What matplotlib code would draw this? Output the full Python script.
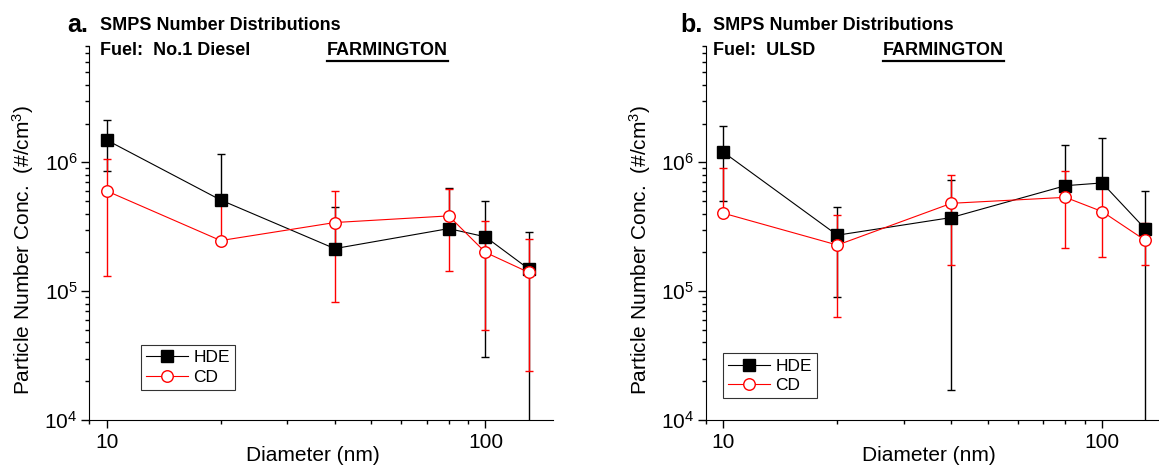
import numpy as np
import matplotlib
matplotlib.use('Agg')
from matplotlib import pyplot as plt
from matplotlib.ticker import LogLocator, FuncFormatter, NullFormatter
from matplotlib.lines import Line2D

plt.rcParams['font.family'] = ['Liberation Sans', 'DejaVu Sans']
plt.rcParams['mathtext.fontset'] = 'custom'
plt.rcParams['mathtext.rm'] = 'Liberation Sans'
plt.rcParams['mathtext.it'] = 'Liberation Sans:italic'
plt.rcParams['mathtext.bf'] = 'Liberation Sans:bold'

# particle diameter (nm)
diameter = [10, 20, 40, 80, 100, 130]

# panel a - No.1 Diesel
a_hde = [1.49e6, 5.1e5, 2.14e5, 3.06e5, 2.64e5, 1.49e5]
a_hde_err = [6.4e5, 6.6e5, 2.36e5, 3.26e5, 2.33e5, 1.4e5]
a_cd = [6.0e5, 2.47e5, 3.41e5, 3.84e5, 2.0e5, 1.4e5]
a_cd_err = [4.7e5, 2.6e5, 2.58e5, 2.41e5, 1.5e5, 1.16e5]

# panel b - ULSD
b_hde = [1.2e6, 2.72e5, 3.73e5, 6.59e5, 6.92e5, 3.04e5]
b_hde_err = [7.0e5, 1.82e5, 3.56e5, 7.1e5, 8.6e5, 3.0e5]
b_cd = [4.03e5, 2.28e5, 4.81e5, 5.35e5, 4.15e5, 2.48e5]
b_cd_err = [4.95e5, 1.65e5, 3.2e5, 3.2e5, 2.32e5, 0.89e5]

W, H = 1159, 467
fig = plt.figure(figsize=(W / 100, H / 100), dpi=100)


def px(x0, y0, w, h):
    # pixel box (top-left origin) -> figure fraction
    return [x0 / W, 1 - (y0 + h) / H, w / W, h / H]


def panel(ax, hde, hde_err, cd, cd_err, leg_xy, xlab_x):
    handles = []
    for vals, errs, col, mk, mfc, lab in [(hde, hde_err, 'black', 's', 'black', 'HDE'),
                                          (cd, cd_err, 'red', 'o', 'white', 'CD')]:
        vals = np.array(vals)
        errs = np.array(errs)
        # minus bar is dropped when it would go below zero
        lo = np.where(vals - errs > 0, errs, 0)
        style = dict(color=col, lw=0.8, marker=mk, ms=8.3, mfc=mfc, mec=col, mew=1)
        ax.errorbar(diameter, vals, yerr=[lo, errs], ecolor=col, elinewidth=1,
                    capsize=3, capthick=1, **style)
        handles.append(Line2D([], [], label=lab, **style))
    ax.set_xscale('log')
    ax.set_yscale('log')
    ax.set_xlim(9, 150.5)
    ax.set_ylim(1e4, 8e6)
    for s in ['top', 'right']:
        ax.spines[s].set_visible(False)
    ax.xaxis.set_major_locator(LogLocator(base=10))
    ax.xaxis.set_minor_locator(LogLocator(base=10, subs=np.arange(2, 10)))
    ax.xaxis.set_minor_formatter(NullFormatter())
    ax.xaxis.set_major_formatter(FuncFormatter(lambda v, p: '%d' % v))
    ax.yaxis.set_major_locator(LogLocator(base=10))
    ax.yaxis.set_minor_locator(LogLocator(base=10, subs=np.arange(2, 10)))
    ax.yaxis.set_minor_formatter(NullFormatter())
    ax.yaxis.set_major_formatter(FuncFormatter(
        lambda v, p: r'$\mathregular{10^{%d}}$' % round(np.log10(v))))
    ax.tick_params(which='major', direction='out', length=5.5, width=1, labelsize=15)
    ax.tick_params(which='minor', direction='out', length=3, width=1)
    ax.tick_params(axis='y', pad=3)
    ax.tick_params(axis='x', pad=4)
    ax.text(xlab_x, -0.096, 'Diameter (nm)', transform=ax.transAxes,
            ha='center', va='center', fontsize=15)
    ax.text(-0.143, 0.455, r'Particle Number Conc.  (#/cm$\mathregular{^3}$)',
            transform=ax.transAxes, rotation=90, ha='center', va='center', fontsize=15)
    leg = ax.legend(handles=handles, loc='lower left', bbox_to_anchor=leg_xy, fontsize=12.5,
                    frameon=True, fancybox=False, handlelength=2.4,
                    borderpad=0.3, labelspacing=0.25, handletextpad=0.3,
                    borderaxespad=0)
    leg.get_frame().set_edgecolor('black')
    leg.get_frame().set_linewidth(0.8)


ax1 = fig.add_axes(px(89.3, 46, 463.4, 374))
panel(ax1, a_hde, a_hde_err, a_cd, a_cd_err, (0.112, 0.080), 0.483)
ax2 = fig.add_axes(px(706, 46, 463.4, 374))
panel(ax2, b_hde, b_hde_err, b_cd, b_cd_err, (0.037, 0.058), 0.481)


def ftext(x, y, s, **kw):
    return fig.text(x / W, 1 - y / H, s, va='baseline', ha='left', fontweight='bold', **kw)


ftext(67, 31.5, 'a.', fontsize=18)
ftext(100, 30, 'SMPS Number Distributions', fontsize=13)
ftext(100, 55, 'Fuel:  No.1 Diesel', fontsize=13)
f1 = ftext(327, 55, 'FARMINGTON', fontsize=13)
ftext(680, 31.5, 'b.', fontsize=18)
ftext(713, 30, 'SMPS Number Distributions', fontsize=13)
ftext(713, 55, 'Fuel:  ULSD', fontsize=13)
f2 = ftext(883, 55, 'FARMINGTON', fontsize=13)

fig.canvas.draw()
r = fig.canvas.get_renderer()
for t in [f1, f2]:
    bb = t.get_window_extent(r)
    yy = 1 - 60.5 / H
    fig.add_artist(Line2D([bb.x0 / W, bb.x1 / W], [yy, yy], color='black', lw=1.6))

fig.savefig('out.png', dpi=100)
